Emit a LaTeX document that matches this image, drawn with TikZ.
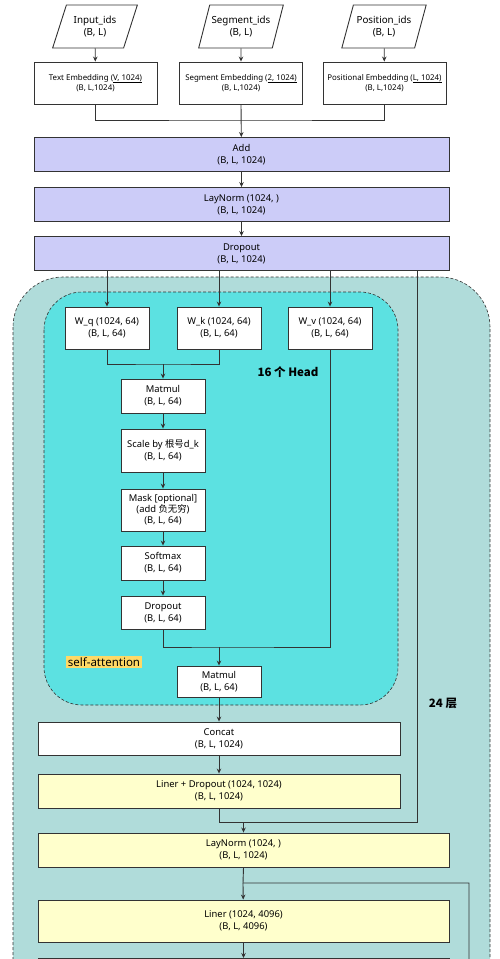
\documentclass[tikz,border=0pt]{standalone}
\usepackage{fontspec}
\setmainfont{Noto Sans}
\newfontfamily\cjk{Noto Sans CJK SC}
\usetikzlibrary{shapes.geometric,arrows.meta}
\definecolor{garis}{HTML}{333333}
\definecolor{lavendel}{HTML}{CCCCF8}
\definecolor{luar}{HTML}{B0DCDA}
\definecolor{dalam}{HTML}{5CE1E1}
\definecolor{krem}{HTML}{FFFFCC}
\definecolor{sorot}{HTML}{FFD966}
\newcommand{\garisbawah}[1]{\underline{\raisebox{0pt}[\height][0.3pt]{#1}}}

\begin{document}
\begin{tikzpicture}[x=1pt,y=-1pt,line width=0.9pt,
      >={Stealth[length=5pt,width=4.5pt]},
      kotak/.style={draw=garis,fill=white,align=center,inner sep=1pt,
        font=\fontsize{9.4}{12}\selectfont},
      masukan/.style={kotak,trapezium,trapezium left angle=65,
        trapezium right angle=115,trapezium stretches=true,
        minimum width=85,minimum height=43,font=\fontsize{9.8}{12}\selectfont},
      emb/.style={kotak,minimum width=123,minimum height=42,
        font=\fontsize{7.9}{10.5}\selectfont},
      ungu/.style={kotak,fill=lavendel,minimum width=415,minimum height=34},
      head/.style={kotak,minimum width=84,minimum height=42},
      langkah/.style={kotak,minimum width=84},
      kuning/.style={kotak,fill=krem,minimum height=34},
      judul/.style={font=\cjk\bfseries\fontsize{11.5}{13}\selectfont},
      wilayah/.style={draw=garis,line width=0.6pt,densely dashed}]

    \clip (0,0) rectangle (500,959);

    % --- Wilayah: 24 lapis encoder dan self-attention di dalamnya -----------
    \draw[wilayah,fill=luar,rounded corners=50] (13,277) rectangle (490,1100);
    \draw[wilayah,fill=dalam,rounded corners=38] (44,292) rectangle (398,705);
    \node[fill=sorot,inner sep=1.5pt,font=\fontsize{11.5}{12}\selectfont] (sa)
      at (104,662) {self-attention};
    \node[judul] (nhead) at (288,372) {16 个 Head};
    \node[judul] (nlapis) at (443,703) {24 层};

    % --- Baris 1: tiga masukan --------------------------------------------
    \node[masukan] (inid) at (95,26.5) {Input\_ids\\(B, L)};
    \node[masukan] (segid) at (241,26.5) {Segment\_ids\\(B, L)};
    \node[masukan] (posid) at (384,26.5) {Position\_ids\\(B, L)};

    % --- Baris 2: tiga embedding ------------------------------------------
    \node[emb] (embt) at (95.5,83)
      {Text Embedding (\garisbawah{V, 1024)}\\(B, L,1024)};
    \node[emb] (embs) at (241,83)
      {Segment Embedding (\garisbawah{2, 1024)}\\(B, L,1024)};
    \node[emb] (embp) at (384.5,83)
      {Positional Embedding (\garisbawah{L, 1024)}\\(B, L,1024)};

    % --- Baris 3: Add, LayNorm, Dropout ------------------------------------
    \node[ungu] (add) at (241.5,154.5) {Add\\(B, L, 1024)};
    \node[ungu] (ln1) at (241.5,204.5) {LayNorm (1024, )\\(B, L, 1024)};
    \node[ungu] (drop1) at (241.5,253.5) {Dropout\\(B, L, 1024)};

    % --- Self-attention -----------------------------------------------------
    \node[head] (wq) at (107,328) {W\_q (1024, 64)\\(B, L, 64)};
    \node[head] (wk) at (219,328) {W\_k (1024, 64)\\(B, L, 64)};
    \node[head] (wv) at (330,328) {W\_v (1024, 64)\\(B, L, 64)};
    \node[langkah,minimum height=34] (mm1) at (163,396) {Matmul\\(B, L, 64)};
    \node[langkah,minimum height=43] (skala) at (163,450.5)
      {Scale by {\cjk 根号}d\_k\\(B, L, 64)};
    \node[langkah,minimum height=42,font=\fontsize{9.4}{11}\selectfont] (mask)
      at (163,510) {Mask [optional]\\(add {\cjk 负无穷})\\(B, L, 64)};
    \node[langkah,minimum height=34] (soft) at (163,563) {Softmax\\(B, L, 64)};
    \node[langkah,minimum height=33] (drop2) at (163,612.5)
      {Dropout\\(B, L, 64)};
    \node[langkah,minimum height=31] (mm2) at (219,681.5) {Matmul\\(B, L, 64)};

    % --- Sisa lapis encoder -------------------------------------------------
    \node[kotak,minimum width=362,minimum height=33] (concat) at (219,738.5)
      {Concat\\(B, L, 1024)};
    \node[kuning,minimum width=362] (lin1) at (219,791)
      {Liner + Dropout (1024, 1024)\\(B, L, 1024)};
    \node[kuning,minimum width=411] (ln2) at (243.5,850)
      {LayNorm (1024, )\\(B, L, 1024)};
    \node[kuning,minimum width=411,minimum height=42] (lin2) at (243.5,921)
      {Liner (1024, 4096)\\(B, L, 4096)};
    \node[kuning,minimum width=411,minimum height=42,anchor=north] (lanjut)
      at (243.5,958) {};

    % --- Titik belok --------------------------------------------------------
    \coordinate (jumlah) at (241,120);
    \coordinate (qk) at (163,364);
    \coordinate (av) at (219,647);
    \coordinate (sisa) at (417,822);
    \coordinate (ffn) at (243,883);
    \coordinate (sisab) at (469,883);

    % --- Panah --------------------------------------------------------------
    \draw[->,draw=garis] (inid) -- (embt);
    \draw[->,draw=garis] (segid) -- (embs);
    \draw[->,draw=garis] (posid) -- (embp);
    % Ketiga embedding dijumlahkan.
    \draw[draw=garis] (embt.south) |- (jumlah) -| (embp.south);
    \draw[->,draw=garis] (embs.south) -- (add);
    \draw[->,draw=garis] (add) -- (ln1);
    \draw[->,draw=garis] (ln1) -- (drop1);
    % Dropout dibagikan ke W_q, W_k, W_v dan jalur sisa.
    \draw[->,draw=garis] (drop1.south -| wq) -- (wq);
    \draw[->,draw=garis] (drop1.south -| wk) -- (wk);
    \draw[->,draw=garis] (drop1.south -| wv) -- (wv);
    \draw[draw=garis] (drop1.south -| sisa) -- (sisa) -| (lin1.south);
    \draw[->,draw=garis] (ln2.north |- sisa) -- (ln2);
    % Q dan K bertemu di Matmul.
    \draw[draw=garis] (wq.south) |- (qk) -| (wk.south);
    \draw[->,draw=garis] (qk) -- (mm1);
    \draw[->,draw=garis] (mm1) -- (skala);
    \draw[->,draw=garis] (skala) -- (mask);
    \draw[->,draw=garis] (mask) -- (soft);
    \draw[->,draw=garis] (soft) -- (drop2);
    % Bobot attention bertemu V.
    \draw[draw=garis] (drop2.south) |- (av) -| (wv.south);
    \draw[->,draw=garis] (av) -- (mm2);
    \draw[->,draw=garis] (mm2) -- (concat);
    \draw[->,draw=garis] (concat) -- (lin1);
    % Feed-forward dengan jalur sisa di kanan.
    \draw[draw=garis] (ln2.south) -- (ffn) -- (sisab) -- ++(0,120);
    \draw[->,draw=garis] (ffn) -- (lin2);
    \draw[->,draw=garis] (lin2) -- (lanjut);
  \end{tikzpicture}
\end{document}
